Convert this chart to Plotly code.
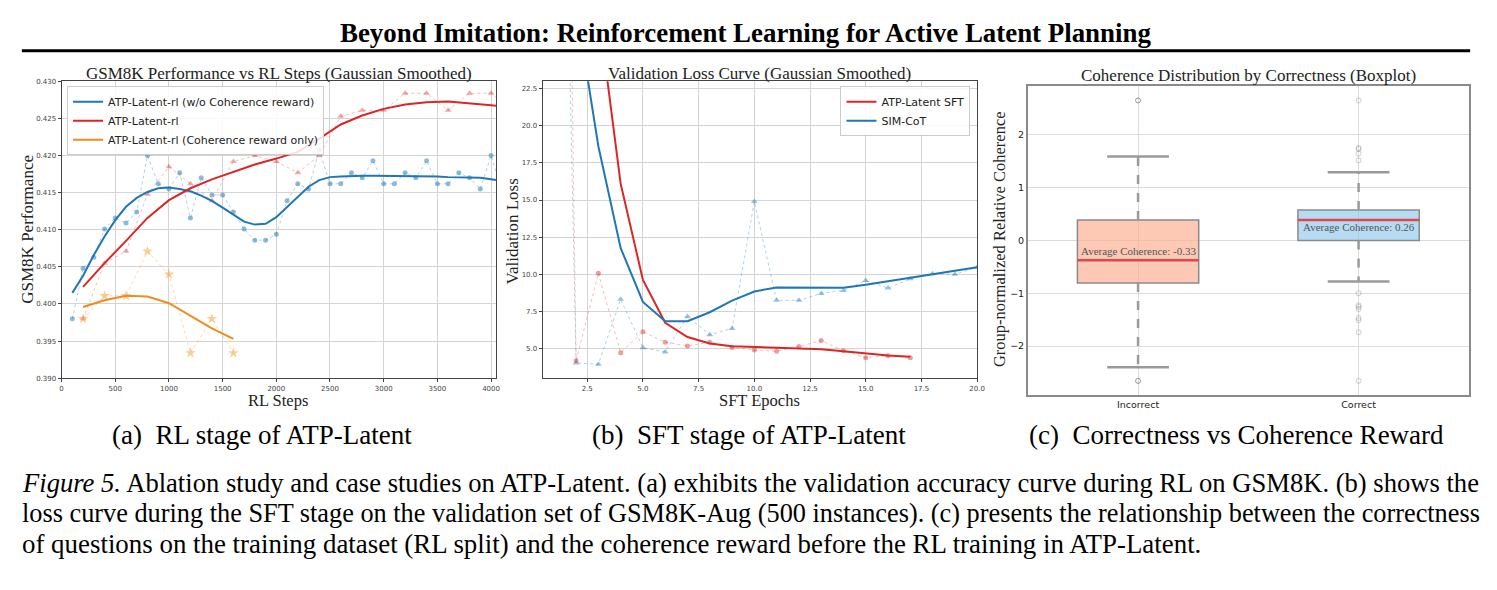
import plotly.graph_objects as go

# ---------------- data: (a) RL stage ----------------
rl_steps_wo = [100, 200, 300, 400, 500, 600, 700, 800, 900, 1000, 1100, 1200, 1300, 1400, 1500,
               1600, 1700, 1800, 1900, 2000, 2100, 2200, 2300, 2400, 2500, 2600, 2700, 2800,
               2900, 3000, 3100, 3200, 3300, 3400, 3500, 3600, 3700, 3800, 3900, 4000, 4100]
acc_wo_raw = [0.3980, 0.4048, 0.4063, 0.4101, 0.4116, 0.4109, 0.4124, 0.4200, 0.4162, 0.4155,
              0.4177, 0.4116, 0.4170, 0.4147, 0.4147, 0.4124, 0.4101, 0.4086, 0.4086, 0.4094,
              0.4139, 0.4162, 0.4155, 0.4208, 0.4162, 0.4162, 0.4177, 0.4170, 0.4193, 0.4162,
              0.4162, 0.4177, 0.4170, 0.4193, 0.4162, 0.4162, 0.4177, 0.4170, 0.4155, 0.4200, 0.4155]
acc_wo_smooth = [0.4015, 0.4038, 0.4066, 0.4091, 0.4113, 0.4131, 0.4143, 0.4151, 0.4156, 0.4157,
                 0.4155, 0.4152, 0.4146, 0.4139, 0.4130, 0.4120, 0.4111, 0.4107, 0.4108, 0.4117,
                 0.4131, 0.4145, 0.4158, 0.4167, 0.4171, 0.4172, 0.4173, 0.4173, 0.4173, 0.4173,
                 0.4172, 0.4172, 0.4172, 0.4173, 0.4172, 0.4171, 0.4171, 0.4170, 0.4170, 0.4168, 0.4166]

rl_steps_atp = [200, 400, 600, 800, 1000, 1200, 1400, 1600, 1800, 2000, 2200, 2400, 2600, 2800,
                3000, 3200, 3400, 3600, 3800, 4000, 4200]
acc_atp_raw = [0.3980, 0.4055, 0.4071, 0.4148, 0.4185, 0.4162, 0.4139, 0.4192, 0.4200, 0.4192,
               0.4177, 0.4200, 0.4253, 0.4261, 0.4261, 0.4284, 0.4284, 0.4261, 0.4284, 0.4284, 0.4261]
acc_atp_smooth = [0.4023, 0.4055, 0.4085, 0.4116, 0.4140, 0.4156, 0.4168, 0.4178, 0.4188, 0.4196,
                  0.4205, 0.4223, 0.4242, 0.4254, 0.4263, 0.4269, 0.4272, 0.4273, 0.4271, 0.4268, 0.4264]

rl_steps_coh = [200, 400, 600, 800, 1000, 1200, 1400, 1600]
acc_coh_raw = [0.3980, 0.4011, 0.4011, 0.4071, 0.4040, 0.3934, 0.3980, 0.3934]
acc_coh_smooth = [0.3996, 0.4005, 0.4011, 0.4010, 0.4001, 0.3984, 0.3967, 0.3953]

# ---------------- data: (b) SFT stage ----------------
sft_epochs_atp = [1, 2, 3, 4, 5, 6, 7, 8, 9, 10, 11, 12, 13, 14, 15, 16, 17]
loss_atp_raw = [110.0, 4.17, 10.07, 4.71, 6.13, 5.42, 5.17, 5.42, 5.07, 4.89, 4.82, 5.13, 5.53,
                4.84, 4.37, 4.51, 4.37]
loss_atp_smooth = [80.0, 50.0, 27.8, 16.1, 9.62, 6.73, 5.77, 5.33, 5.15, 5.09, 5.04, 5.02, 4.95,
                   4.82, 4.67, 4.53, 4.44]
sft_epochs_sim = [1, 2, 3, 4, 5, 6, 7, 8, 9, 10, 11, 12, 13, 14, 15, 16, 17, 18, 19, 20]
loss_sim_raw = [75.0, 4.02, 3.93, 8.31, 5.04, 4.77, 7.15, 5.93, 6.35, 14.9, 8.24, 8.24, 8.71,
                8.91, 9.57, 9.07, 9.69, 10.04, 10.00, 10.47]
loss_sim_smooth = [45.0, 28.1, 18.62, 11.77, 8.13, 6.84, 6.84, 7.44, 8.22, 8.84, 9.11, 9.11, 9.07,
                   9.09, 9.29, 9.51, 9.73, 10.00, 10.24, 10.47]

# ---------------- data: (c) boxplot ----------------
box_categories = ["Incorrect", "Correct"]
box_pos = [0, 1]
box_q1 = [-0.806, 0.000]
box_median = [-0.378, 0.385]
box_q3 = [0.385, 0.577]
box_whislo = [-2.40, -0.776]
box_whishi = [1.589, 1.290]
box_mean = [-0.33, 0.26]
outliers_incorrect = [2.65, -2.66]
outliers_correct = [2.65, 1.75, 1.73, 1.645, 1.515, -1.00, -1.23, -1.26, -1.30, -1.47, -1.51, -1.74, -2.66]

W, H = 1497, 590
def px(x):
    return x / W
def py(y):
    return 1 - y / H

BLUE = "#1f77b4"
RED = "#dc2626"
ORANGE = "#f08c1e"

fig = go.Figure()

# (a) raw + smooth
fig.add_trace(go.Scatter(x=rl_steps_wo, y=acc_wo_raw, mode="lines+markers", xaxis="x", yaxis="y",
                         line=dict(color="rgba(31,119,180,0.35)", width=1, dash="dot"),
                         marker=dict(symbol="circle", size=5, color="rgba(31,119,180,0.5)"),
                         showlegend=False))
fig.add_trace(go.Scatter(x=rl_steps_atp, y=acc_atp_raw, mode="lines+markers", xaxis="x", yaxis="y",
                         line=dict(color="rgba(220,38,38,0.3)", width=1, dash="dot"),
                         marker=dict(symbol="triangle-up", size=6, color="rgba(220,38,38,0.4)"),
                         showlegend=False))
fig.add_trace(go.Scatter(x=rl_steps_coh, y=acc_coh_raw, mode="lines+markers", xaxis="x", yaxis="y",
                         line=dict(color="rgba(240,140,30,0.35)", width=1, dash="dot"),
                         marker=dict(symbol="star", size=8, color="rgba(245,165,70,0.55)"),
                         showlegend=False))
fig.add_trace(go.Scatter(x=rl_steps_wo, y=acc_wo_smooth, mode="lines", xaxis="x", yaxis="y",
                         line=dict(color=BLUE, width=2), name="ATP-Latent-rl (w/o Coherence reward)",
                         legend="legend"))
fig.add_trace(go.Scatter(x=rl_steps_atp, y=acc_atp_smooth, mode="lines", xaxis="x", yaxis="y",
                         line=dict(color=RED, width=2), name="ATP-Latent-rl", legend="legend"))
fig.add_trace(go.Scatter(x=rl_steps_coh, y=acc_coh_smooth, mode="lines", xaxis="x", yaxis="y",
                         line=dict(color=ORANGE, width=2), name="ATP-Latent-rl (Coherence reward only)",
                         legend="legend"))

# (b)
fig.add_trace(go.Scatter(x=sft_epochs_atp, y=loss_atp_raw, mode="lines+markers", xaxis="x2", yaxis="y2",
                         line=dict(color="rgba(220,38,38,0.3)", width=1, dash="dot"),
                         marker=dict(symbol="circle", size=5, color="rgba(220,38,38,0.45)"),
                         showlegend=False))
fig.add_trace(go.Scatter(x=sft_epochs_sim, y=loss_sim_raw, mode="lines+markers", xaxis="x2", yaxis="y2",
                         line=dict(color="rgba(31,119,180,0.35)", width=1, dash="dot"),
                         marker=dict(symbol="triangle-up", size=6, color="rgba(31,119,180,0.45)"),
                         showlegend=False))
fig.add_trace(go.Scatter(x=sft_epochs_atp, y=loss_atp_smooth, mode="lines", xaxis="x2", yaxis="y2",
                         line=dict(color=RED, width=2), name="ATP-Latent SFT", legend="legend2"))
fig.add_trace(go.Scatter(x=sft_epochs_sim, y=loss_sim_smooth, mode="lines", xaxis="x2", yaxis="y2",
                         line=dict(color=BLUE, width=2), name="SIM-CoT", legend="legend2"))

# (c) boxes
box_fills = ["rgba(252,170,140,0.65)", "rgba(135,195,235,0.6)"]
BOX_W = 0.55
CAP_HALF = 0.14
for i in range(2):
    fig.add_trace(go.Box(x=[box_pos[i]], q1=[box_q1[i]], median=[box_median[i]], q3=[box_q3[i]],
                         lowerfence=[box_q1[i]], upperfence=[box_q3[i]], width=BOX_W,
                         fillcolor=box_fills[i], line=dict(color="#8a8a8a", width=1.5),
                         whiskerwidth=0, boxpoints=False, xaxis="x3", yaxis="y3",
                         showlegend=False, hoverinfo="skip"))
    fig.add_trace(go.Scatter(x=[box_pos[i], box_pos[i], None, box_pos[i], box_pos[i]],
                             y=[box_q3[i], box_whishi[i], None, box_q1[i], box_whislo[i]],
                             mode="lines", line=dict(color="#9a9a9a", width=2.5, dash="dash"),
                             xaxis="x3", yaxis="y3", showlegend=False, hoverinfo="skip"))
    fig.add_trace(go.Scatter(x=[box_pos[i] - CAP_HALF, box_pos[i] + CAP_HALF, None,
                                box_pos[i] - CAP_HALF, box_pos[i] + CAP_HALF],
                             y=[box_whishi[i], box_whishi[i], None, box_whislo[i], box_whislo[i]],
                             mode="lines", line=dict(color="#9a9a9a", width=2.5),
                             xaxis="x3", yaxis="y3", showlegend=False, hoverinfo="skip"))
    fig.add_trace(go.Scatter(x=[box_pos[i] - BOX_W / 2, box_pos[i] + BOX_W / 2],
                             y=[box_median[i], box_median[i]], mode="lines",
                             line=dict(color="#e0474c", width=2.5),
                             xaxis="x3", yaxis="y3", showlegend=False, hoverinfo="skip"))

fig.add_trace(go.Scatter(x=[box_pos[0]] * len(outliers_incorrect), y=outliers_incorrect, mode="markers",
                         marker=dict(symbol="circle-open", size=5, color="rgba(90,90,90,0.6)", line=dict(width=1)),
                         xaxis="x3", yaxis="y3", showlegend=False))
fig.add_trace(go.Scatter(x=[box_pos[1]] * len(outliers_correct), y=outliers_correct, mode="markers",
                         marker=dict(symbol="circle-open", size=5, color="rgba(120,120,120,0.35)", line=dict(width=1)),
                         xaxis="x3", yaxis="y3", showlegend=False))

tickfont_small = dict(family="DejaVu Sans", size=7, color="#444")
common_ab = dict(showline=True, mirror=True, linecolor="#444", linewidth=1, ticks="outside", ticklen=3,
                 tickcolor="#444", showgrid=True, gridcolor="#d4d4d4", gridwidth=1, zeroline=False,
                 tickfont=tickfont_small)

annotations = []
def ann(text, x, y, size, family="Liberation Serif", color="#222", xanchor="center", yanchor="middle",
        angle=0, xref="paper", yref="paper"):
    annotations.append(dict(text=text, x=x, y=y, xref=xref, yref=yref, showarrow=False,
                            xanchor=xanchor, yanchor=yanchor, textangle=angle, borderpad=0,
                            font=dict(family=family, size=size, color=color)))

# title
ann("<b>Beyond Imitation: Reinforcement Learning for Active Latent Planning</b>", px(748), py(29), 26.9,
    color="#000")

# subplot titles and axis titles
ann("GSM8K Performance vs RL Steps (Gaussian Smoothed)", px(279), py(70), 17)
ann("RL Steps", px(278), py(391), 16.5, yanchor="top")
ann("GSM8K Performance", px(26), py(228), 17, angle=-90)
ann("Validation Loss Curve (Gaussian Smoothed)", px(763), py(70), 17)
ann("SFT Epochs", px(763), py(391), 16.5, yanchor="top")
ann("Validation Loss", px(514), py(231), 17, angle=-90)
ann("Coherence Distribution by Correctness (Boxplot)", px(1255), py(72), 17)
ann("Group-normalized Relative Coherence", px(1004), py(238), 16.5, angle=-90)

# box annotations
ann("Average Coherence: -0.33", 0, -0.2, 11, color="#555", xref="x3", yref="y3")
ann("Average Coherence: 0.26", 1, 0.25, 11, color="#555", xref="x3", yref="y3")

# sub-captions
ann("(a)  RL stage of ATP-Latent", px(262), py(437), 27, color="#000")
ann("(b)  SFT stage of ATP-Latent", px(752), py(437), 27, color="#000")
ann("(c)  Correctness vs Coherence Reward", px(1243), py(437), 27, color="#000")

# figure caption
cap_lines = [
    "<i>Figure 5.</i> Ablation study and case studies on ATP-Latent. (a) exhibits the validation accuracy curve during RL on GSM8K. (b) shows the",
    "loss curve during the SFT stage on the validation set of GSM8K-Aug (500 instances). (c) presents the relationship between the correctness",
    "of questions on the training dataset (RL split) and the coherence reward before the RL training in ATP-Latent.",
]
cap_sizes = [26.6, 26.3, 26.9]
for k, line in enumerate(cap_lines):
    ann(line, px(19), py(486 + 30.5 * k), cap_sizes[k], color="#000", xanchor="left")

fig.update_layout(
    width=W, height=H, margin=dict(l=0, r=0, t=0, b=0),
    paper_bgcolor="white", plot_bgcolor="white",
    xaxis=dict(domain=[px(60), px(497.3)], range=[0, 4046], tick0=0, dtick=500, anchor="y", **common_ab),
    yaxis=dict(domain=[py(379.3), py(78.5)], range=[0.390, 0.430], tick0=0.390, dtick=0.005,
               tickformat=".3f", anchor="x", **common_ab),
    xaxis2=dict(domain=[px(544.3), px(981.7)], range=[0.5, 20], tick0=0, dtick=2.5, tickformat=".1f",
                anchor="y2", **common_ab),
    yaxis2=dict(domain=[py(379.3), py(78.3)], range=[3, 23], tick0=0, dtick=2.5, tickformat=".1f",
                anchor="x2", **common_ab),
    xaxis3=dict(domain=[px(1032.7), px(1476.7)], range=[-0.5, 1.5], tickvals=box_pos, ticktext=box_categories,
                anchor="y3", showline=True, mirror=True, linecolor="#8a8a8a", linewidth=1.5,
                showgrid=True, gridcolor="#dcdcdc", zeroline=False, ticks="",
                tickfont=dict(family="DejaVu Sans", size=9.5, color="#222")),
    yaxis3=dict(domain=[py(396), py(83.3)], range=[-2.92, 2.92], tick0=0, dtick=1,
                anchor="x3", showline=True, mirror=True, linecolor="#8a8a8a", linewidth=1.5,
                showgrid=True, gridcolor="#dcdcdc", zeroline=False, ticks="",
                tickfont=dict(family="DejaVu Sans", size=9.5, color="#222")),
    legend=dict(x=px(65.5), y=py(83.5), xanchor="left", yanchor="top", bgcolor="rgba(255,255,255,0.85)",
                bordercolor="#cccccc", borderwidth=1, font=dict(family="DejaVu Sans", size=11, color="#222"),
                itemwidth=30, tracegroupgap=0),
    legend2=dict(x=px(975), y=py(83.5), xanchor="right", yanchor="top", bgcolor="rgba(255,255,255,0.85)",
                 bordercolor="#cccccc", borderwidth=1, font=dict(family="DejaVu Sans", size=11, color="#222"),
                 itemwidth=30, tracegroupgap=0),
    annotations=annotations,
    shapes=[dict(type="line", xref="paper", yref="paper", x0=px(20), x1=px(1478), y0=py(47.5), y1=py(47.5),
                 line=dict(color="black", width=3))],
)

fig.write_html("out.html")
